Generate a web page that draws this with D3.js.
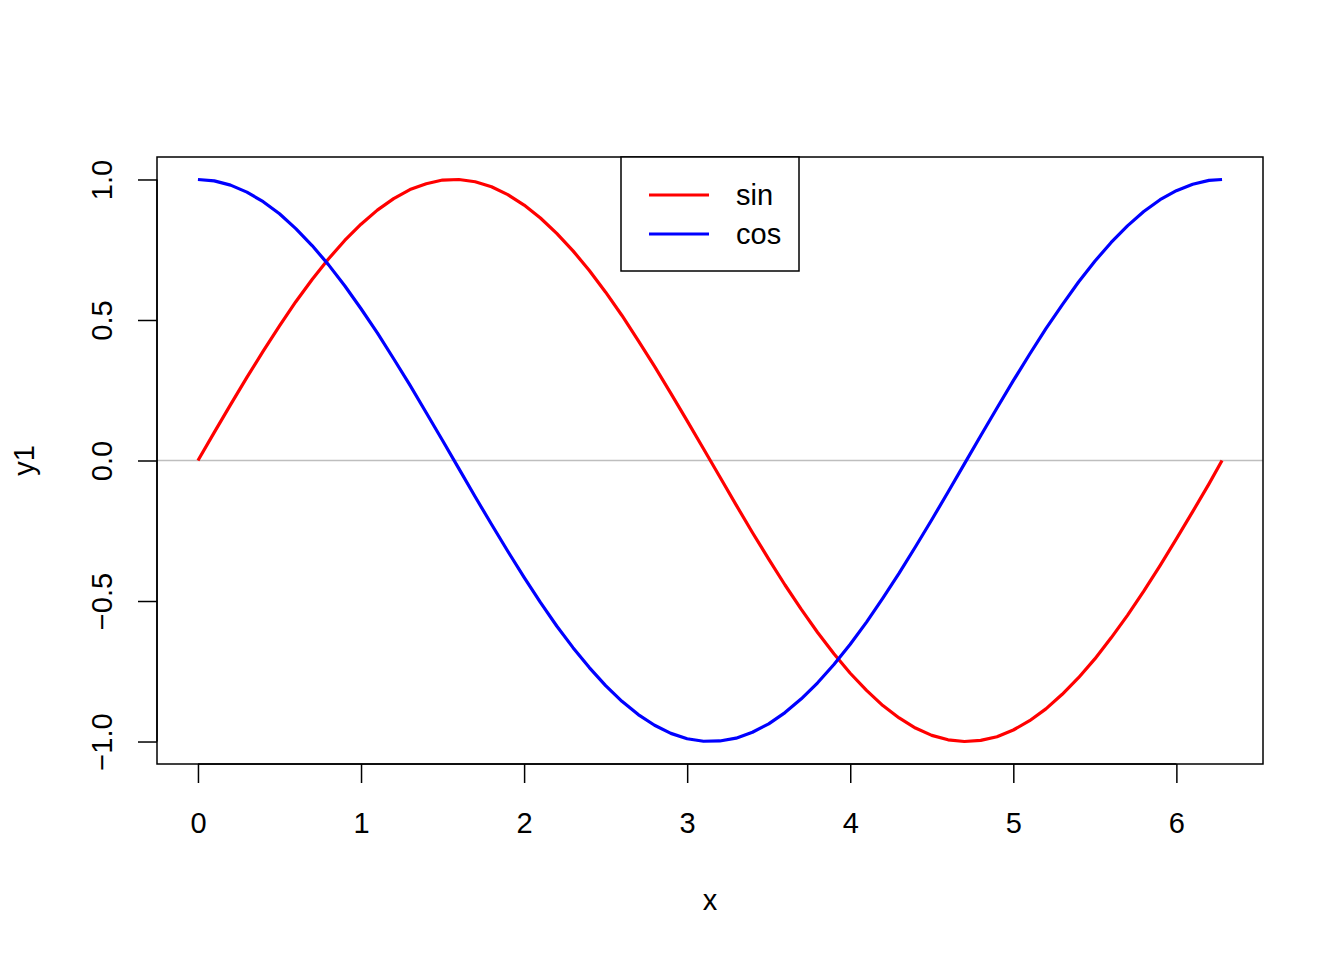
<!DOCTYPE html>
<html>
<head>
<meta charset="utf-8">
<script src="https://cdn.jsdelivr.net/npm/d3@7"></script>
<style>
  body { margin: 0; background: #fff; }
  svg { display: block; font-family: "Liberation Sans", Arial, sans-serif; }
</style>
</head>
<body>
<script>
// sample points
const xs = [0, 0.1, 0.2, 0.3, 0.4, 0.5, 0.6, 0.7, 0.8, 0.9, 1.0, 1.1, 1.2, 1.3, 1.4, 1.5, 1.6, 1.7, 1.8, 1.9,
  2.0, 2.1, 2.2, 2.3, 2.4, 2.5, 2.6, 2.7, 2.8, 2.9, 3.0, 3.1, 3.2, 3.3, 3.4, 3.5, 3.6, 3.7, 3.8, 3.9,
  4.0, 4.1, 4.2, 4.3, 4.4, 4.5, 4.6, 4.7, 4.8, 4.9, 5.0, 5.1, 5.2, 5.3, 5.4, 5.5, 5.6, 5.7, 5.8, 5.9,
  6.0, 6.1, 6.2, 6.28];
const sinVals = [0, 0.100, 0.199, 0.296, 0.389, 0.479, 0.565, 0.644, 0.717, 0.783, 0.841, 0.891, 0.932, 0.964, 0.985, 0.998, 1.000, 0.992, 0.974, 0.946,
  0.909, 0.863, 0.808, 0.746, 0.676, 0.599, 0.516, 0.427, 0.335, 0.239, 0.141, 0.042, -0.058, -0.158, -0.256, -0.351, -0.443, -0.530, -0.612, -0.688,
  -0.757, -0.818, -0.872, -0.916, -0.952, -0.978, -0.994, -1.000, -0.996, -0.983, -0.959, -0.926, -0.884, -0.832, -0.773, -0.706, -0.631, -0.551, -0.465, -0.374,
  -0.279, -0.182, -0.083, 0];
const cosVals = [1, 0.995, 0.980, 0.955, 0.921, 0.878, 0.825, 0.765, 0.697, 0.622, 0.540, 0.454, 0.362, 0.268, 0.170, 0.071, -0.029, -0.129, -0.227, -0.323,
  -0.416, -0.505, -0.589, -0.666, -0.737, -0.801, -0.857, -0.904, -0.942, -0.971, -0.990, -0.999, -0.998, -0.988, -0.967, -0.937, -0.897, -0.848, -0.791, -0.726,
  -0.654, -0.575, -0.490, -0.401, -0.307, -0.211, -0.112, -0.012, 0.088, 0.187, 0.284, 0.378, 0.469, 0.554, 0.635, 0.709, 0.776, 0.835, 0.886, 0.928,
  0.960, 0.983, 0.997, 1];
const xTicks = [0, 1, 2, 3, 4, 5, 6];
const yTicks = [-1.0, -0.5, 0.0, 0.5, 1.0];
const seriesNames = ["sin", "cos"];
const seriesColors = ["#ff0000", "#0000ff"];

const w = 1344, h = 960;
const margin = {top: 157, right: 81, bottom: 196, left: 157};
const innerW = w - margin.left - margin.right;
const innerH = h - margin.top - margin.bottom;
const fs = 29;

const svg = d3.select("body").append("svg")
  .attr("width", w)
  .attr("height", h);

const g = svg.append("g")
  .attr("transform", `translate(${margin.left},${margin.top})`);

// R style 4% padding on each side
const xExt = d3.extent(xs);
const xPad = (xExt[1] - xExt[0]) * 0.04;
const xScale = d3.scaleLinear().domain([xExt[0] - xPad, xExt[1] + xPad]).range([0, innerW]);
const yScale = d3.scaleLinear().domain([-1.08, 1.08]).range([innerH, 0]);

// zero line
g.append("line")
  .attr("x1", 0).attr("x2", innerW)
  .attr("y1", yScale(0)).attr("y2", yScale(0))
  .attr("stroke", "#bebebe").attr("stroke-width", 1.5);

const line = d3.line()
  .x((d, i) => xScale(xs[i]))
  .y(d => yScale(d));

[sinVals, cosVals].forEach((vals, k) => {
  g.append("path")
    .datum(vals)
    .attr("d", line)
    .attr("fill", "none")
    .attr("stroke", seriesColors[k])
    .attr("stroke-width", 3.2)
    .attr("stroke-linejoin", "round");
});

// plot box
g.append("rect")
  .attr("width", innerW).attr("height", innerH)
  .attr("fill", "none").attr("stroke", "#000").attr("stroke-width", 1.5);

// x axis
const xAxis = d3.axisBottom(xScale).tickValues(xTicks).tickSize(19).tickPadding(29).tickFormat(d3.format("d"));
const xAxisG = g.append("g").attr("transform", `translate(0,${innerH})`).call(xAxis);
xAxisG.select(".domain")
  .attr("d", `M${xScale(0)},0H${xScale(6)}`);

// y axis
const yAxis = d3.axisLeft(yScale).tickValues(yTicks).tickSize(19).tickFormat(d3.format(".1f"));
const yAxisG = g.append("g").call(yAxis);
yAxisG.select(".domain")
  .attr("d", `M0,${yScale(-1)}V${yScale(1)}`);
yAxisG.selectAll(".tick text")
  .attr("x", null).attr("dy", null)
  .attr("text-anchor", "middle")
  .attr("transform", "translate(-45,0) rotate(-90)");

[xAxisG, yAxisG].forEach(a => {
  a.selectAll(".domain, .tick line").attr("stroke", "#000").attr("stroke-width", 1.5);
  a.selectAll(".tick text").attr("font-size", fs).attr("fill", "#000")
    .attr("font-family", "'Liberation Sans', Arial, sans-serif");
});

// axis titles
svg.append("text")
  .attr("x", margin.left + innerW / 2).attr("y", 910)
  .attr("text-anchor", "middle").attr("font-size", fs).text("x");
svg.append("text")
  .attr("transform", `translate(34,${margin.top + innerH / 2}) rotate(-90)`)
  .attr("text-anchor", "middle").attr("font-size", fs).text("y1");

// legend
const legend = svg.append("g").attr("transform", "translate(621,157)");
legend.append("rect")
  .attr("width", 178).attr("height", 114)
  .attr("fill", "#fff").attr("stroke", "#000").attr("stroke-width", 1.5);
seriesNames.forEach((name, i) => {
  const yy = 38 + i * 39;
  legend.append("line")
    .attr("x1", 28).attr("x2", 88).attr("y1", yy).attr("y2", yy)
    .attr("stroke", seriesColors[i]).attr("stroke-width", 3.2);
  legend.append("text")
    .attr("x", 115).attr("y", yy + 10)
    .attr("font-size", fs).text(name);
});
</script>
</body>
</html>
